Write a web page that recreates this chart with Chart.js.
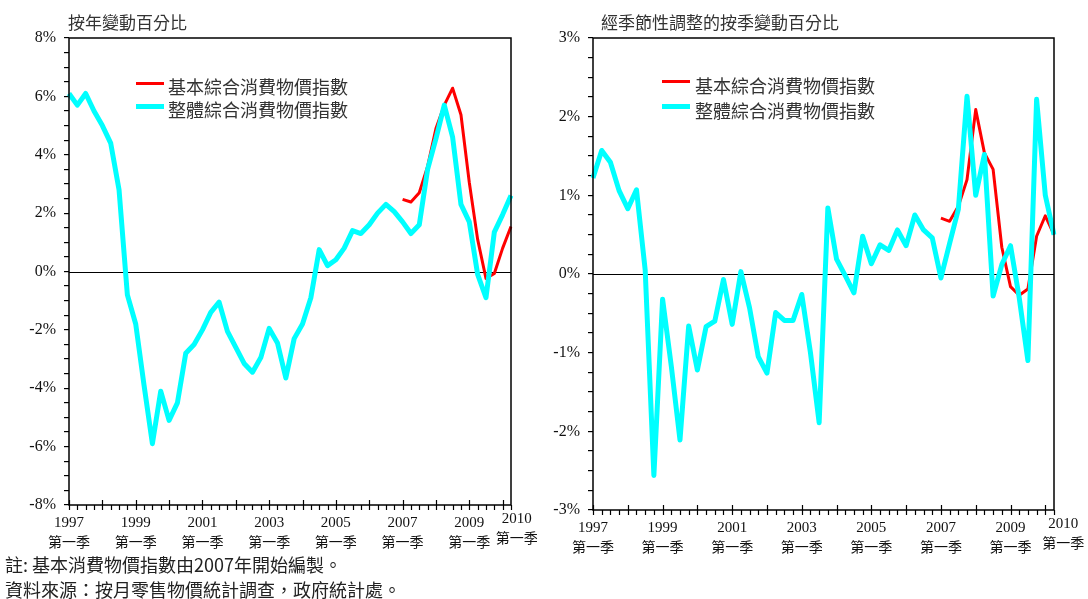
<!DOCTYPE html>
<html lang="zh-Hant">
<head>
<meta charset="utf-8">
<title>綜合消費物價指數</title>
<script src="https://cdn.jsdelivr.net/npm/chart.js@4"></script>
<style>
    body {
        margin: 0;
        background: #fff;
        width: 1088px;
        height: 599px;
        position: relative;
        overflow: hidden;
        font-family: "Noto Sans CJK TC", sans-serif;
        color: #333;
    }
    canvas { position: absolute; top: 0; }
    #c1 { left: 0; }
    #c2 { left: 544px; }
    .title { position: absolute; top: 12px; font-size: 17px; line-height: 20px; white-space: nowrap; }
    .leg { position: absolute; font-size: 18px; line-height: 22px; white-space: nowrap; }
    .mark { position: absolute; width: 28px; }
    .note { position: absolute; left: 5px; font-size: 18px; line-height: 22px; color: #222; white-space: nowrap; }
</style>
</head>
<body>
    <canvas id="c1" width="544" height="560"></canvas>
    <canvas id="c2" width="544" height="560"></canvas>

    <div class="title" style="left:68px">按年變動百分比</div>
    <div class="title" style="left:601px">經季節性調整的按季變動百分比</div>

    <!-- legends (inside the plot areas) -->
    <div class="mark" style="left:136px; top:82px; height:3px; background:#ff0000"></div>
    <div class="leg" style="left:168px; top:75px">基本綜合消費物價指數</div>
    <div class="mark" style="left:136px; top:104px; height:5px; background:#00ffff"></div>
    <div class="leg" style="left:168px; top:98px">整體綜合消費物價指數</div>

    <div class="mark" style="left:662px; top:80px; height:3px; background:#ff0000"></div>
    <div class="leg" style="left:695px; top:74px">基本綜合消費物價指數</div>
    <div class="mark" style="left:662px; top:104px; height:5px; background:#00ffff"></div>
    <div class="leg" style="left:695px; top:99px">整體綜合消費物價指數</div>

    <div class="note" style="top:553px">註: 基本消費物價指數由2007年開始編製。</div>
    <div class="note" style="top:578px">資料來源：按月零售物價統計調查，政府統計處。</div>

<script>
    // 1997 第一季 .. 2010 第二季
    const quarters = [];
    for (let yr = 1997; yr <= 2010; yr++) {
        for (let q = 1; q <= 4; q++) {
            if (yr === 2010 && q > 2) break;
            quarters.push(yr + ' Q' + q);
        }
    }

    // 按年變動百分比
    const yoyHeadline = [
        6.1, 5.7, 6.1, 5.5,     5.0, 4.4, 2.8, -0.8,
        -1.8, -3.9, -5.9, -4.1, -5.1, -4.5, -2.8, -2.5,
        -2.0, -1.4, -1.05, -2.05, -2.6, -3.15, -3.45, -2.95,
        -1.95, -2.45, -3.65, -2.3, -1.8, -0.9, 0.75, 0.2,
        0.4, 0.8, 1.4, 1.3,     1.6, 2.0, 2.3, 2.05,
        1.7, 1.3, 1.6, 3.5,     4.55, 5.7, 4.6, 2.3,
        1.7, -0.1, -0.9, 1.35,  1.95, 2.6
    ];
    const yoyUnderlying = [
        null, null, null, null, null, null, null, null,
        null, null, null, null, null, null, null, null,
        null, null, null, null, null, null, null, null,
        null, null, null, null, null, null, null, null,
        null, null, null, null, null, null, null, null,
        2.47, 2.38, 2.7, 3.6,   4.9, 5.7, 6.28, 5.37,
        3.05, 1.1, -0.24, -0.07, 0.8, 1.54
    ];

    // 經季節性調整的按季變動百分比
    const qoqHeadline = [
        1.22, 1.57, 1.42, 1.06,  0.83, 1.07, 0.05, -2.56,
        -0.32, -1.17, -2.11, -0.66, -1.22, -0.67, -0.6, -0.07,
        -0.64, 0.03, -0.43, -1.05, -1.26, -0.49, -0.59, -0.59,
        -0.26, -1.0, -1.89, 0.84, 0.19, -0.02, -0.24, 0.48,
        0.13, 0.37, 0.3, 0.56,   0.36, 0.75, 0.56, 0.46,
        -0.05, 0.39, 0.82, 2.26, 1.0, 1.52, -0.28, 0.12,
        0.36, -0.3, -1.1, 2.22,  1.0, 0.5
    ];
    const qoqUnderlying = [
        null, null, null, null, null, null, null, null,
        null, null, null, null, null, null, null, null,
        null, null, null, null, null, null, null, null,
        null, null, null, null, null, null, null, null,
        null, null, null, null, null, null, null, null,
        0.71, 0.67, 0.86, 1.2,  2.09, 1.54, 1.33, 0.34,
        -0.16, -0.27, -0.19, 0.48, 0.74, 0.5
    ];

    // x 軸標籤
    const yearTickIdx = [0, 8, 16, 24, 32, 40, 48, 52];
    const yearTickText = ['1997', '1999', '2001', '2003', '2005', '2007', '2009', '2010'];
    const quarterText = '第一季';

    // 框線、零線、x 軸刻度及標籤
    const framePlugin = {
        id: 'frame',
        beforeDatasetsDraw(chart) {
            const {ctx, chartArea: a, scales: {y}} = chart;
            const y0 = Math.round(y.getPixelForValue(0)) + 0.5;
            ctx.save();
            ctx.strokeStyle = '#000';
            ctx.lineWidth = 1.2;
            ctx.beginPath();
            ctx.moveTo(a.left, y0);
            ctx.lineTo(a.right, y0);
            ctx.stroke();
            ctx.restore();
        },
        afterDraw(chart, args, opts) {
            const {ctx, chartArea: a, scales: {x}} = chart;
            ctx.save();
            ctx.strokeStyle = '#000';
            ctx.lineWidth = 1.5;
            ctx.strokeRect(a.left, a.top, a.right - a.left, a.bottom - a.top);

            ctx.lineWidth = 1.2;
            ctx.beginPath();
            quarters.forEach((q, i) => {
                const px = Math.round(x.getPixelForValue(i)) + 0.5;
                ctx.moveTo(px, i % 4 === 0 ? a.bottom - 5 : a.bottom);
                ctx.lineTo(px, a.bottom + 5);
            });
            ctx.stroke();

            ctx.fillStyle = '#111';
            ctx.textAlign = 'center';
            ctx.textBaseline = 'middle';
            yearTickIdx.forEach((idx, k) => {
                const last = k === yearTickIdx.length - 1;
                const px = x.getPixelForValue(idx) + (last ? opts.lastShift : 0);
                const py = a.bottom + (last ? 14 : 18);
                ctx.font = '15px "Liberation Serif"';
                ctx.fillText(yearTickText[k], px, py);
                ctx.font = '14px "Noto Sans CJK TC"';
                ctx.fillText(quarterText, px, py + 19);
            });
            ctx.restore();
        }
    };

    function makeConfig(headline, underlying, yMin, yMax, step, labelStep, yWidth, xHeight, padRight, lastShift) {
        return {
            type: 'line',
            data: {
                labels: quarters,
                datasets: [{
                    label: '整體綜合消費物價指數',
                    data: headline,
                    borderColor: '#00ffff',
                    borderWidth: 5,
                    order: 1
                }, {
                    label: '基本綜合消費物價指數',
                    data: underlying,
                    borderColor: '#ff0000',
                    borderWidth: 3,
                    order: 2
                }]
            },
            options: {
                responsive: false,
                animation: false,
                spanGaps: false,
                elements: {
                    point: {radius: 0},
                    line: {tension: 0, borderJoinStyle: 'round', borderCapStyle: 'butt'}
                },
                layout: {padding: {top: 38, right: padRight, left: 0, bottom: 0}},
                plugins: {
                    legend: {display: false},
                    tooltip: {enabled: false},
                    frame: {lastShift: lastShift}
                },
                scales: {
                    x: {
                        type: 'category',
                        offset: false,
                        grid: {display: false},
                        border: {display: false},
                        ticks: {display: false},
                        afterFit: s => { s.height = xHeight; }
                    },
                    y: {
                        min: yMin,
                        max: yMax,
                        afterFit: s => { s.width = yWidth; },
                        border: {display: false},
                        grid: {display: true, drawOnChartArea: false, drawTicks: true, tickLength: 5, color: '#000', lineWidth: 1.2},
                        ticks: {
                            stepSize: step,
                            maxTicksLimit: 100,
                            autoSkip: false,
                            padding: 8,
                            color: '#111',
                            font: {family: '"Liberation Serif"', size: 16},
                            callback: v => (Math.abs(v / labelStep - Math.round(v / labelStep)) < 1e-6 ? v + '%' : '')
                        }
                    }
                }
            },
            plugins: [framePlugin]
        };
    }

    new Chart(document.getElementById('c1').getContext('2d'),
        makeConfig(yoyHeadline, yoyUnderlying, -8, 8, 0.5, 2, 69, 55, 33, 14));
    new Chart(document.getElementById('c2').getContext('2d'),
        makeConfig(qoqHeadline, qoqUnderlying, -3, 3, 0.25, 1, 49, 50, 34, 18));
</script>
</body>
</html>
